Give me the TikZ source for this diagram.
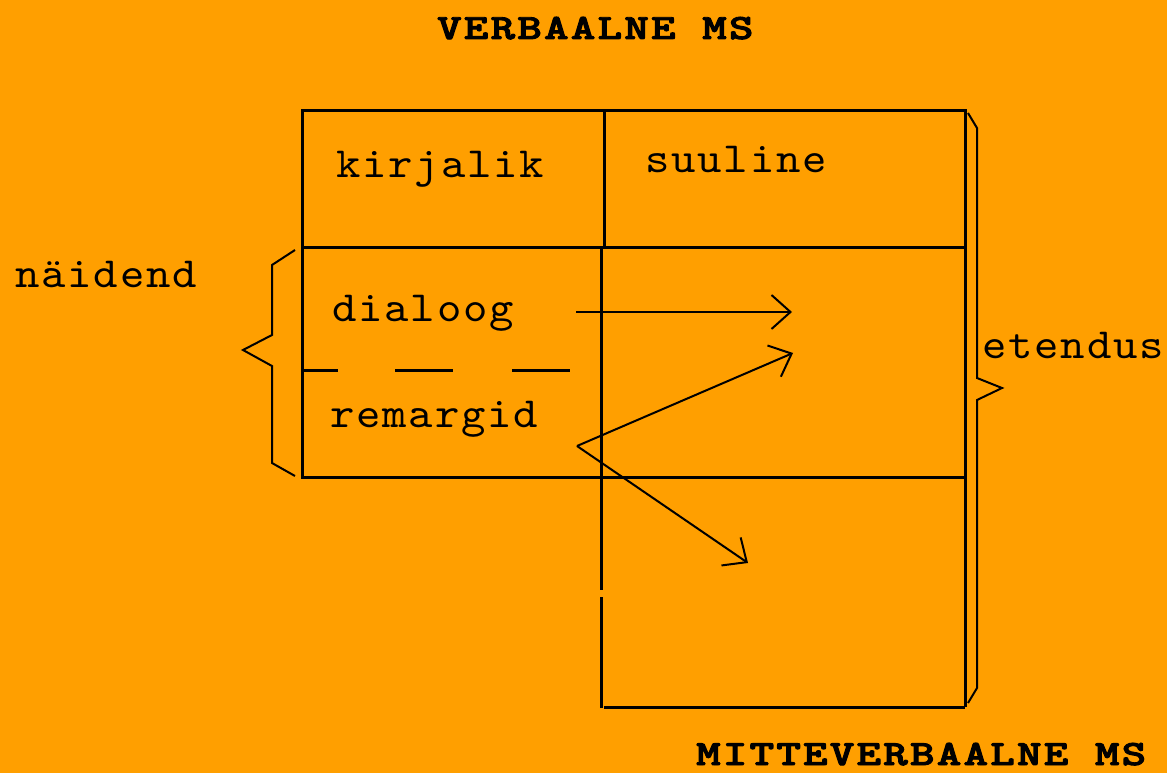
\documentclass[tikz,border=0pt]{standalone}
\usepackage{fontspec}
\usetikzlibrary{arrows.meta}
\newfontfamily\lmono{lmmono10-regular.otf}[LetterSpace=4]
\newfontfamily\lmonob{lmmonolt10-bold.otf}[LetterSpace=5,FakeBold=2.5]
\definecolor{bg}{RGB}{255,159,0}
\newcommand\widelbl[1]{\scalebox{1.08}[1]{#1}}
\newcommand\widettl[1]{\scalebox{1.31}[1]{#1}}
\tikzset{
  lbl/.style={anchor=base west, inner sep=0pt, font=\lmono\fontsize{43}{50}\selectfont},
  ttl/.style={anchor=base west, inner sep=0pt, font=\lmonob\fontsize{35.5}{40}\selectfont},
  frame/.style={line width=3pt},
  thin/.style={line width=2pt, line join=miter},
  arr/.style={line width=2pt, -{Straight Barb[length=19pt,width=34pt,line width=2pt]}}
}
\begin{document}
\begin{tikzpicture}[x=1pt,y=-1pt]
\fill[bg] (0,0) rectangle (1167,773);
\useasboundingbox (0,0) rectangle (1167,773);
% frame
\draw[frame] (965,707) -- (965,111) -- (302,111) -- (302,477) -- (965,477);
\draw[frame] (302,247) -- (965,247);
\draw[frame] (604,111) -- (604,247);
\draw[frame] (601,247) -- (601,590);
\draw[frame] (601,597) -- (601,708);
\draw[frame] (604,707) -- (965,707);
% dashed divider
\draw[frame] (302,370) -- (338,370);
\draw[frame] (395,370) -- (453,370);
\draw[frame] (512,370) -- (570,370);
% braces
\draw[thin] (295,250) -- (272,265) -- (272,335) -- (243,350) -- (272,366) -- (272,463) -- (295,476);
\draw[thin] (968,113) -- (977,128) -- (977,378) -- (1002,388) -- (977,400) -- (977,688) -- (968,703);
% labels
\node[lbl] (kirj) at (336,177) {\widelbl{kirjalik}};
\node[lbl] (suul) at (645,172) {\widelbl{suuline}};
\node[lbl] (dial) at (332,321) {\widelbl{dialoog}};
\node[lbl] (rema) at (330,427) {\widelbl{remargid}};
\node[lbl] (naid) at (15,287) {\widelbl{näidend}};
\node[lbl] (eten) at (982,358) {\widelbl{etendus}};
\node[ttl] (verb) at (437,39) {\widettl{VERBAALNE MS}};
\node[ttl] (mitt) at (696,765) {\widettl{MITTEVERBAALNE MS}};
% arrows
\coordinate (a1s) at (576,312);
\coordinate (a1e) at (792,312);
\coordinate (apex) at (577,446);
\coordinate (a2e) at (793,353);
\coordinate (a3e) at (748,563);
\draw[arr] (a1s) -- (a1e);
\draw[arr] (apex) -- (a2e);
\draw[arr] (apex) -- (a3e);
\end{tikzpicture}
\end{document}
